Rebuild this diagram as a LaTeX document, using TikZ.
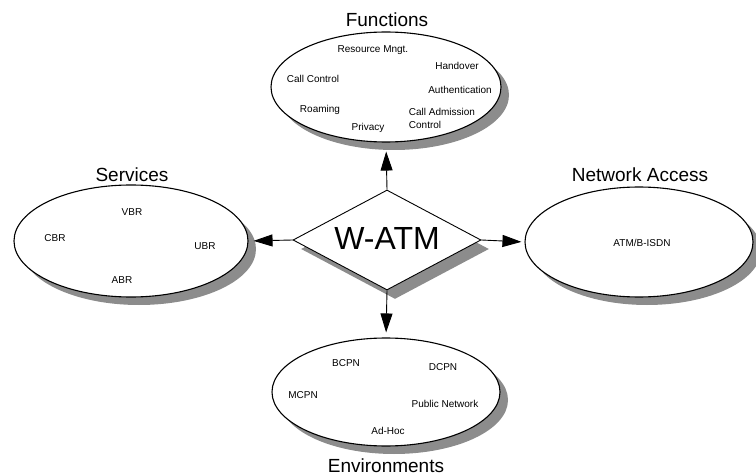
\documentclass[tikz,border=0pt]{standalone}
\usepackage{fontspec}
\setmainfont{Liberation Sans}
\usetikzlibrary{shapes.geometric,arrows.meta,shadows}
\begin{document}
\begin{tikzpicture}[x=1pt,y=-1pt,
  shad/.style={drop shadow={shadow xshift=8pt,shadow yshift=-8pt,fill=black!45,opacity=1}},
  oval/.style={ellipse,draw=black,line width=1.1pt,fill=white,minimum width=230pt,minimum height=110pt,inner sep=0pt,shad},
  small/.style={font=\fontsize{10}{13}\selectfont,inner sep=0pt},
  title/.style={font=\fontsize{19}{22}\selectfont,inner sep=0pt},
  conn/.style={line width=0.9pt,-{Triangle[length=19pt,width=12pt]}}]
\useasboundingbox (0,0) rectangle (756,476);
% ellipses
\node[oval] (fun) at (386,87) {};
\node[oval,minimum width=234pt,minimum height=112pt] (ser) at (131,241) {};
\node[oval,minimum width=228pt] (net) at (639,242) {};
\node[oval,minimum width=228pt,minimum height=108pt] (env) at (386,392) {};
% diamond
\node[diamond,draw=black,line width=0.9pt,fill=white,minimum width=188pt,minimum height=100pt,inner sep=0pt,
  drop shadow={shadow xshift=8pt,shadow yshift=-9pt,fill=black!45,opacity=1}] (d) at (387,240) {};
\node[font=\fontsize{32}{36}\selectfont,inner sep=0pt] (watm) at (387,238) {W-ATM};
% titles
\node[title] (tfun) at (387,20) {Functions};
\node[title] (tser) at (132,175) {Services};
\node[title] (tnet) at (640,175) {Network Access};
\node[title] (tenv) at (386,466) {Environments};
% functions items
\node[small] (f1) at (373,50) {Resource Mngt.};
\node[small] (f2) at (457,66) {Handover};
\node[small] (f3) at (313,79) {Call Control};
\node[small] (f4) at (460,90) {Authentication};
\node[small] (f5) at (320,110) {Roaming};
\node[small,align=left] (f6) at (442,118) {Call Admission\\Control};
\node[small] (f7) at (368,128) {Privacy};
% services items
\node[small] (s1) at (132,212) {VBR};
\node[small] (s2) at (55,238) {CBR};
\node[small] (s3) at (205,246) {UBR};
\node[small] (s4) at (122,280) {ABR};
% network
\node[small] (n1) at (642,243) {ATM/B-ISDN};
% environments
\node[small] (e1) at (346,363) {BCPN};
\node[small] (e2) at (443,367) {DCPN};
\node[small] (e3) at (303,395) {MCPN};
\node[small] (e4) at (445,404) {Public Network};
\node[small] (e5) at (388,431) {Ad-Hoc};
% connectors
\draw[conn,shorten >=9pt] (d.north) -- (fun.south);
\draw[conn,shorten >=5pt] (d.west) -- (ser.east);
\draw[conn,shorten >=3pt] (d.east) -- (net.west);
\draw[conn,shorten >=5pt] (d.south) -- (env.north);
\end{tikzpicture}
\end{document}
